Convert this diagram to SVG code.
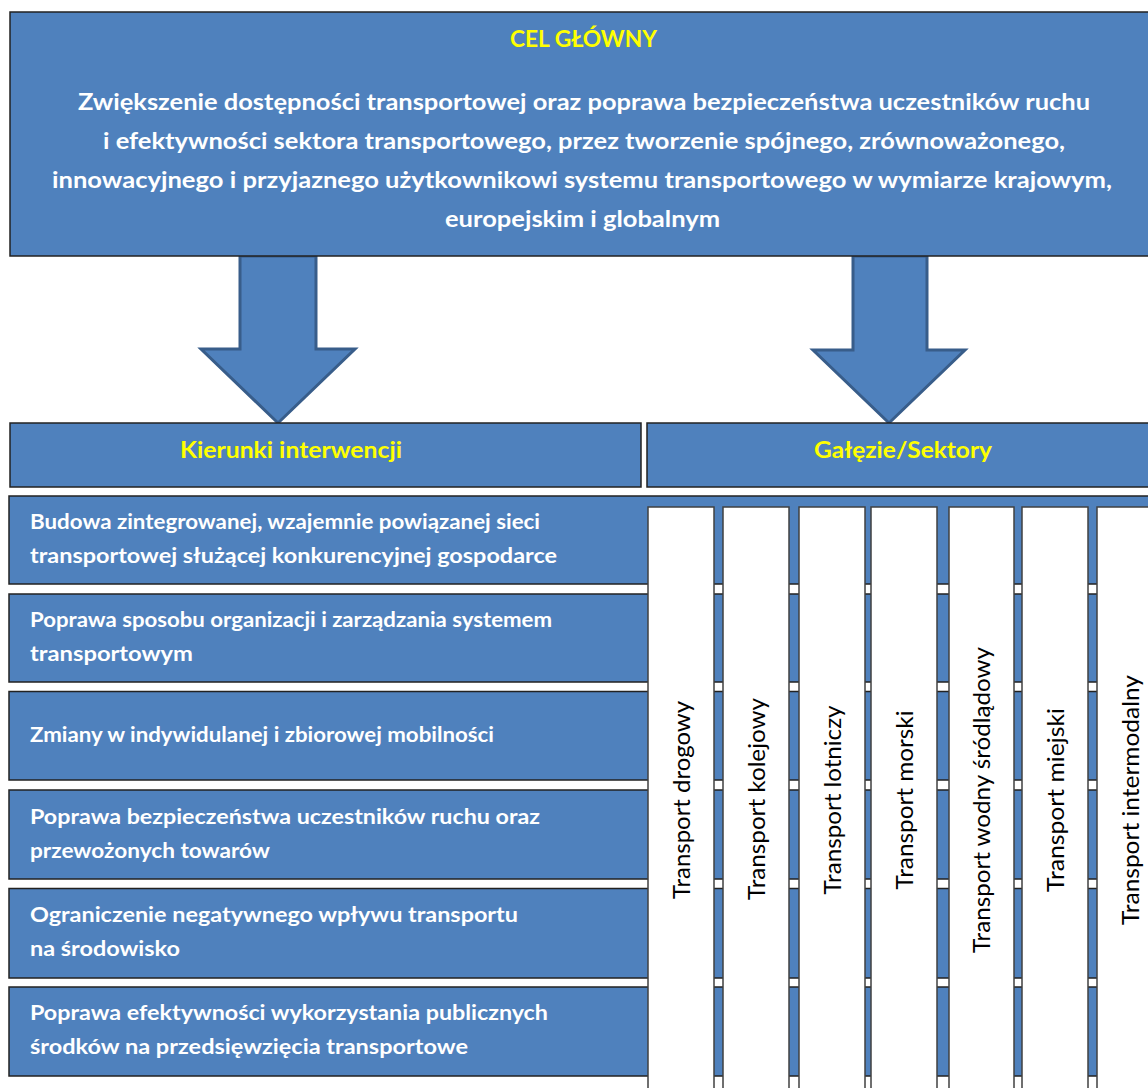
<svg xmlns="http://www.w3.org/2000/svg" width="1148" height="1088" viewBox="0 0 1148 1088">
<style>
.box{fill:#4f81bd;stroke:#222;stroke-width:1.5}
.arrow{fill:#4f81bd;stroke:#385d8a;stroke-width:3;stroke-linejoin:miter}
.col{fill:#fff;stroke:#404040;stroke-width:1.5}
.yel{font-family:Lato,"Liberation Sans",sans-serif;font-weight:bold;fill:#ffff00;font-size:23px}
.wt{font-family:Lato,"Liberation Sans",sans-serif;font-weight:bold;fill:#fff;font-size:23px}
.rt{font-family:Lato,"Liberation Sans",sans-serif;font-weight:bold;fill:#fff;font-size:20.5px}
.ct{font-family:Lato,"Liberation Sans",sans-serif;fill:#000;font-size:23px;text-anchor:middle}
</style>
<rect width="1148" height="1088" fill="#fff"/>
<g id="connectors">
<polygon class="arrow" points="240,256 316,256 316,349 355,349 278,423 201,349 240,349"/>
<polygon class="arrow" points="853,256 927,256 927,350 965,350 889,423 813,350 853,350"/>
</g>
<g id="cel-glowny">
<rect class="box" x="10" y="12" width="1160" height="244"/>
<text class="yel" x="510" y="47" textLength="147" lengthAdjust="spacingAndGlyphs">CEL GŁÓWNY</text>
<text class="wt" x="78" y="110" textLength="1012" lengthAdjust="spacingAndGlyphs">Zwiększenie dostępności transportowej oraz poprawa bezpieczeństwa uczestników ruchu</text>
<text class="wt" x="103" y="149" textLength="962" lengthAdjust="spacingAndGlyphs">i efektywności sektora transportowego, przez tworzenie spójnego, zrównoważonego,</text>
<text class="wt" x="52" y="188" textLength="1060" lengthAdjust="spacingAndGlyphs">innowacyjnego i przyjaznego użytkownikowi systemu transportowego w wymiarze krajowym,</text>
<text class="wt" x="445" y="227" textLength="275" lengthAdjust="spacingAndGlyphs">europejskim i globalnym</text>
</g>
<g id="kierunki-header">
<rect class="box" x="10" y="423" width="631" height="64"/>
<text class="yel" x="180" y="458" textLength="222" lengthAdjust="spacingAndGlyphs">Kierunki interwencji</text>
</g>
<g id="galezie-header">
<rect class="box" x="647" y="423" width="520" height="64"/>
<text class="yel" x="814" y="458" textLength="178" lengthAdjust="spacingAndGlyphs">Gałęzie/Sektory</text>
</g>
<g id="row1">
<rect class="box" x="9" y="496" width="1160" height="88"/>
<text class="rt" x="30" y="529" textLength="510" lengthAdjust="spacingAndGlyphs">Budowa zintegrowanej, wzajemnie powiązanej sieci</text>
<text class="rt" x="30" y="563" textLength="527" lengthAdjust="spacingAndGlyphs">transportowej służącej konkurencyjnej gospodarce</text>
</g>
<g id="row2">
<rect class="box" x="9" y="594" width="1160" height="88"/>
<text class="rt" x="30" y="627" textLength="522" lengthAdjust="spacingAndGlyphs">Poprawa sposobu organizacji i zarządzania systemem</text>
<text class="rt" x="30" y="661" textLength="163" lengthAdjust="spacingAndGlyphs">transportowym</text>
</g>
<g id="row3">
<rect class="box" x="9" y="691.5" width="1160" height="88.5"/>
<text class="rt" x="30" y="742" textLength="464" lengthAdjust="spacingAndGlyphs">Zmiany w indywidulanej i zbiorowej mobilności</text>
</g>
<g id="row4">
<rect class="box" x="9" y="790" width="1160" height="89"/>
<text class="rt" x="30" y="824" textLength="510" lengthAdjust="spacingAndGlyphs">Poprawa bezpieczeństwa uczestników ruchu oraz</text>
<text class="rt" x="30" y="858" textLength="240" lengthAdjust="spacingAndGlyphs">przewożonych towarów</text>
</g>
<g id="row5">
<rect class="box" x="9" y="888.5" width="1160" height="89.5"/>
<text class="rt" x="30" y="922" textLength="488" lengthAdjust="spacingAndGlyphs">Ograniczenie negatywnego wpływu transportu</text>
<text class="rt" x="30" y="956" textLength="150" lengthAdjust="spacingAndGlyphs">na środowisko</text>
</g>
<g id="row6">
<rect class="box" x="9" y="987" width="1160" height="89"/>
<text class="rt" x="30" y="1020" textLength="518" lengthAdjust="spacingAndGlyphs">Poprawa efektywności wykorzystania publicznych</text>
<text class="rt" x="30" y="1054" textLength="438" lengthAdjust="spacingAndGlyphs">środków na przedsięwzięcia transportowe</text>
</g>
<g id="col-drogowy">
<rect class="col" x="648" y="507" width="66" height="600"/>
<text class="ct" transform="translate(690,800) rotate(-90)" textLength="198" lengthAdjust="spacingAndGlyphs">Transport drogowy</text>
</g>
<g id="col-kolejowy">
<rect class="col" x="723" y="507" width="66" height="600"/>
<text class="ct" transform="translate(765,799) rotate(-90)" textLength="202" lengthAdjust="spacingAndGlyphs">Transport kolejowy</text>
</g>
<g id="col-lotniczy">
<rect class="col" x="799" y="507" width="66" height="600"/>
<text class="ct" transform="translate(841,800) rotate(-90)" textLength="189" lengthAdjust="spacingAndGlyphs">Transport lotniczy</text>
</g>
<g id="col-morski">
<rect class="col" x="871" y="507" width="66" height="600"/>
<text class="ct" transform="translate(913,800) rotate(-90)" textLength="179" lengthAdjust="spacingAndGlyphs">Transport morski</text>
</g>
<g id="col-wodny">
<rect class="col" x="949" y="507" width="65" height="600"/>
<text class="ct" transform="translate(990,800) rotate(-90)" textLength="306" lengthAdjust="spacingAndGlyphs">Transport wodny śródlądowy</text>
</g>
<g id="col-miejski">
<rect class="col" x="1022" y="507" width="66" height="600"/>
<text class="ct" transform="translate(1064,800) rotate(-90)" textLength="184" lengthAdjust="spacingAndGlyphs">Transport miejski</text>
</g>
<g id="col-intermodalny">
<rect class="col" x="1097" y="507" width="66" height="600"/>
<text class="ct" transform="translate(1139,800) rotate(-90)" textLength="250" lengthAdjust="spacingAndGlyphs">Transport intermodalny</text>
</g>
</svg>
